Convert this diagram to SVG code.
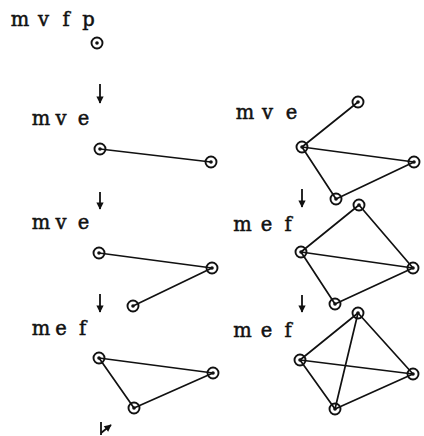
<svg xmlns="http://www.w3.org/2000/svg" width="424" height="436" viewBox="0 0 424 436">
<defs>
<style>
.lbl{font-family:"DejaVu Serif","Liberation Serif",serif;font-size:19.5px;fill:#111;stroke:#111;stroke-width:0.5;text-anchor:middle}
.e{stroke:#111;stroke-width:1.7;fill:none;stroke-linecap:round}
.arr{stroke:#111;stroke-width:1.8;fill:none}
</style>
<g id="vtx"><circle r="5.5" fill="none" stroke="#111" stroke-width="1.9"/><circle r="1.8" fill="#111"/></g>
<marker id="ah" viewBox="0 0 10 10" refX="9" refY="5" markerWidth="4.4" markerHeight="4" orient="auto" markerUnits="strokeWidth"><path d="M0,0 L10,5 L0,10 Z" fill="#111"/></marker>
</defs>
<rect width="424" height="436" fill="#fff"/>

<g id="labels">
<text class="lbl" x="20 31 43.5 55 66 77 88.5" y="26">m v f p</text>
<text class="lbl" x="41 51 61 72 83.5" y="125">m v e</text>
<text class="lbl" x="41 51 61 72 83.5" y="229">m v e</text>
<text class="lbl" x="41 51 61 72 82.5" y="335">m e f</text>
<text class="lbl" x="245 256 267.5 279 291.5" y="119">m v e</text>
<text class="lbl" x="242.5 254 266.5 277 288" y="231">m e f</text>
<text class="lbl" x="242.5 254 266.5 277 288" y="337">m e f</text>
</g>

<g id="connectors">
<line class="arr" x1="100" y1="84" x2="100" y2="103" marker-end="url(#ah)"/>
<line class="arr" x1="100" y1="192" x2="100" y2="209" marker-end="url(#ah)"/>
<line class="arr" x1="100" y1="294" x2="100" y2="312" marker-end="url(#ah)"/>
<line class="arr" x1="302" y1="189" x2="302" y2="207" marker-end="url(#ah)"/>
<line class="arr" x1="302" y1="295" x2="302" y2="312" marker-end="url(#ah)"/>
<line class="e" x1="100" y1="149" x2="211" y2="162"/>
<line class="e" x1="99" y1="253" x2="212" y2="268"/>
<line class="e" x1="212" y1="268" x2="133" y2="306"/>
<line class="e" x1="99" y1="358" x2="213" y2="373"/>
<line class="e" x1="213" y1="373" x2="134" y2="408"/>
<line class="e" x1="99" y1="358" x2="134" y2="408"/>
<line class="e" x1="358" y1="102" x2="302" y2="147"/>
<line class="e" x1="302" y1="147" x2="414" y2="162"/>
<line class="e" x1="302" y1="147" x2="336" y2="199"/>
<line class="e" x1="336" y1="199" x2="414" y2="162"/>
<line class="e" x1="359" y1="205" x2="301" y2="252"/>
<line class="e" x1="359" y1="205" x2="413" y2="268"/>
<line class="e" x1="301" y1="252" x2="413" y2="268"/>
<line class="e" x1="301" y1="252" x2="335" y2="304"/>
<line class="e" x1="335" y1="304" x2="413" y2="268"/>
<line class="e" x1="358" y1="313" x2="300" y2="360"/>
<line class="e" x1="358" y1="313" x2="413" y2="374"/>
<line class="e" x1="358" y1="313" x2="335" y2="409"/>
<line class="e" x1="300" y1="360" x2="413" y2="374"/>
<line class="e" x1="300" y1="360" x2="335" y2="409"/>
<line class="e" x1="335" y1="409" x2="413" y2="374"/>
</g>

<g id="n0"><use href="#vtx" x="97" y="43"/></g>
<g id="g1"><use href="#vtx" x="100" y="149"/><use href="#vtx" x="211" y="162"/></g>
<g id="g2"><use href="#vtx" x="99" y="253"/><use href="#vtx" x="212" y="268"/><use href="#vtx" x="133" y="306"/></g>
<g id="g3"><use href="#vtx" x="99" y="358"/><use href="#vtx" x="213" y="373"/><use href="#vtx" x="134" y="408"/></g>
<g id="r1"><use href="#vtx" x="358" y="102"/><use href="#vtx" x="302" y="147"/><use href="#vtx" x="414" y="162"/><use href="#vtx" x="336" y="199"/></g>
<g id="r2"><use href="#vtx" x="359" y="205"/><use href="#vtx" x="301" y="252"/><use href="#vtx" x="413" y="268"/><use href="#vtx" x="335" y="304"/></g>
<g id="r3"><use href="#vtx" x="358" y="313"/><use href="#vtx" x="300" y="360"/><use href="#vtx" x="413" y="374"/><use href="#vtx" x="335" y="409"/></g>

<g id="mark">
<line class="arr" x1="101" y1="422" x2="101" y2="435"/>
<line class="arr" x1="101" y1="433" x2="111" y2="425" marker-end="url(#ah)"/>
</g>
</svg>
